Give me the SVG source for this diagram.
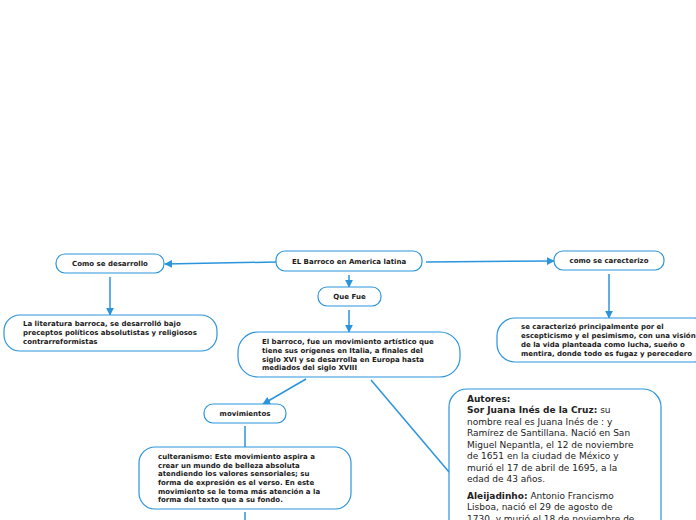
<svg xmlns="http://www.w3.org/2000/svg" width="696" height="520" viewBox="0 0 696 520">
<defs>
<marker id="ah" viewBox="0 0 10 10" refX="9" refY="5" markerWidth="8" markerHeight="8" markerUnits="userSpaceOnUse" orient="auto">
<path d="M0,0 L10,5 L0,10 z" fill="#2a95dc"/>
</marker>
<style>
.n{fill:#fff;stroke:#2a95dc;stroke-width:1.2}
.c{fill:none;stroke:#2a95dc;stroke-width:1.5}
.t{font-family:"DejaVu Sans",Verdana,sans-serif;font-weight:bold;font-size:7px;fill:#1a1a1a}
.tc{text-anchor:middle}
.a{font-family:"DejaVu Sans",Verdana,sans-serif;font-size:9px;fill:#222}
.ab{font-weight:bold}
</style>
</defs>
<rect width="696" height="520" fill="#fff"/>
<g id="connectors">
<line class="c" x1="276" y1="262" x2="165" y2="264" marker-end="url(#ah)"/>
<line class="c" x1="426" y1="262" x2="554" y2="261" marker-end="url(#ah)"/>
<line class="c" x1="349" y1="275" x2="349" y2="287" marker-end="url(#ah)"/>
<line class="c" x1="349" y1="310" x2="349" y2="332" marker-end="url(#ah)"/>
<line class="c" x1="110" y1="277" x2="110" y2="315" marker-end="url(#ah)"/>
<line class="c" x1="609" y1="274" x2="609" y2="318" marker-end="url(#ah)"/>
<line class="c" x1="306" y1="379" x2="263" y2="404" marker-end="url(#ah)"/>
<line class="c" x1="371" y1="380" x2="449" y2="472"/>
<line class="c" x1="245" y1="426" x2="245" y2="447"/>
<line class="c" x1="245" y1="512" x2="245" y2="520"/>
</g>
<g id="root">
<rect class="n" x="276" y="251" width="146" height="20" rx="9"/>
<text class="t tc" x="349" y="264">EL Barroco en America latina</text>
</g>
<g id="como-desarrollo">
<rect class="n" x="56" y="254" width="108" height="19" rx="9"/>
<text class="t tc" x="110" y="266">Como se desarrollo</text>
</g>
<g id="como-caracterizo">
<rect class="n" x="554" y="251" width="110" height="19" rx="9"/>
<text class="t tc" x="609" y="263">como se carecterizo</text>
</g>
<g id="que-fue">
<rect class="n" x="318" y="287" width="63" height="19" rx="9"/>
<text class="t tc" x="349.5" y="299">Que Fue</text>
</g>
<g id="literatura">
<rect class="n" x="4" y="315" width="213" height="36" rx="16"/>
<text class="t" x="23" y="326">La literatura barroca, se desarrolló bajo</text>
<text class="t" x="23" y="335">preceptos políticos absolutistas y religiosos</text>
<text class="t" x="23" y="344">contrarreformistas</text>
</g>
<g id="caracterizo">
<rect class="n" x="497" y="318" width="215" height="44" rx="18"/>
<text class="t" x="521" y="329">se caracterizó principalmente por el</text>
<text class="t" x="521" y="338">escepticismo y el pesimismo, con una visión</text>
<text class="t" x="521" y="347">de la vida planteada como lucha, sueño o</text>
<text class="t" x="521" y="356">mentira, donde todo es fugaz y perecedero</text>
</g>
<g id="definicion">
<rect class="n" x="238" y="332" width="222" height="45" rx="20"/>
<text class="t" x="262" y="344">El barroco, fue un movimiento artístico que</text>
<text class="t" x="262" y="353">tiene sus orígenes en Italia, a finales del</text>
<text class="t" x="262" y="362">siglo XVI y se desarrolla en Europa hasta</text>
<text class="t" x="262" y="370">mediados del siglo XVIII</text>
</g>
<g id="movimientos">
<rect class="n" x="204" y="404" width="82" height="19" rx="9"/>
<text class="t tc" x="245" y="416">movimientos</text>
</g>
<g id="culteranismo">
<rect class="n" x="139" y="447" width="212" height="62" rx="16"/>
<text class="t" x="158" y="459">culteranismo: Este movimiento aspira a</text>
<text class="t" x="158" y="468">crear un mundo de belleza absoluta</text>
<text class="t" x="158" y="476">atendiendo los valores sensoriales; su</text>
<text class="t" x="158" y="485">forma de expresión es el verso. En este</text>
<text class="t" x="158" y="494">movimiento se le toma más atención a la</text>
<text class="t" x="158" y="502">forma del texto que a su fondo.</text>
</g>
<g id="autores">
<rect class="n" x="449" y="389" width="212" height="160" rx="18"/>
<text class="a ab" x="467" y="402">Autores:</text>
<text class="a" x="467" y="413"><tspan class="ab">Sor Juana Inés de la Cruz:</tspan> su</text>
<text class="a" x="467" y="425">nombre real es Juana Inés de : y</text>
<text class="a" x="467" y="436">Ramírez de Santillana. Nació en San</text>
<text class="a" x="467" y="448">Miguel Nepantla, el 12 de noviembre</text>
<text class="a" x="467" y="459">de 1651 en la ciudad de México y</text>
<text class="a" x="467" y="471">murió el 17 de abril de 1695, a la</text>
<text class="a" x="467" y="482">edad de 43 años.</text>
<text class="a" x="467" y="499"><tspan class="ab">Aleijadinho:</tspan> Antonio Francismo</text>
<text class="a" x="467" y="510">Lisboa, nació el 29 de agosto de</text>
<text class="a" x="467" y="522">1730, y murió el 18 de noviembre de</text>
</g>
</svg>
